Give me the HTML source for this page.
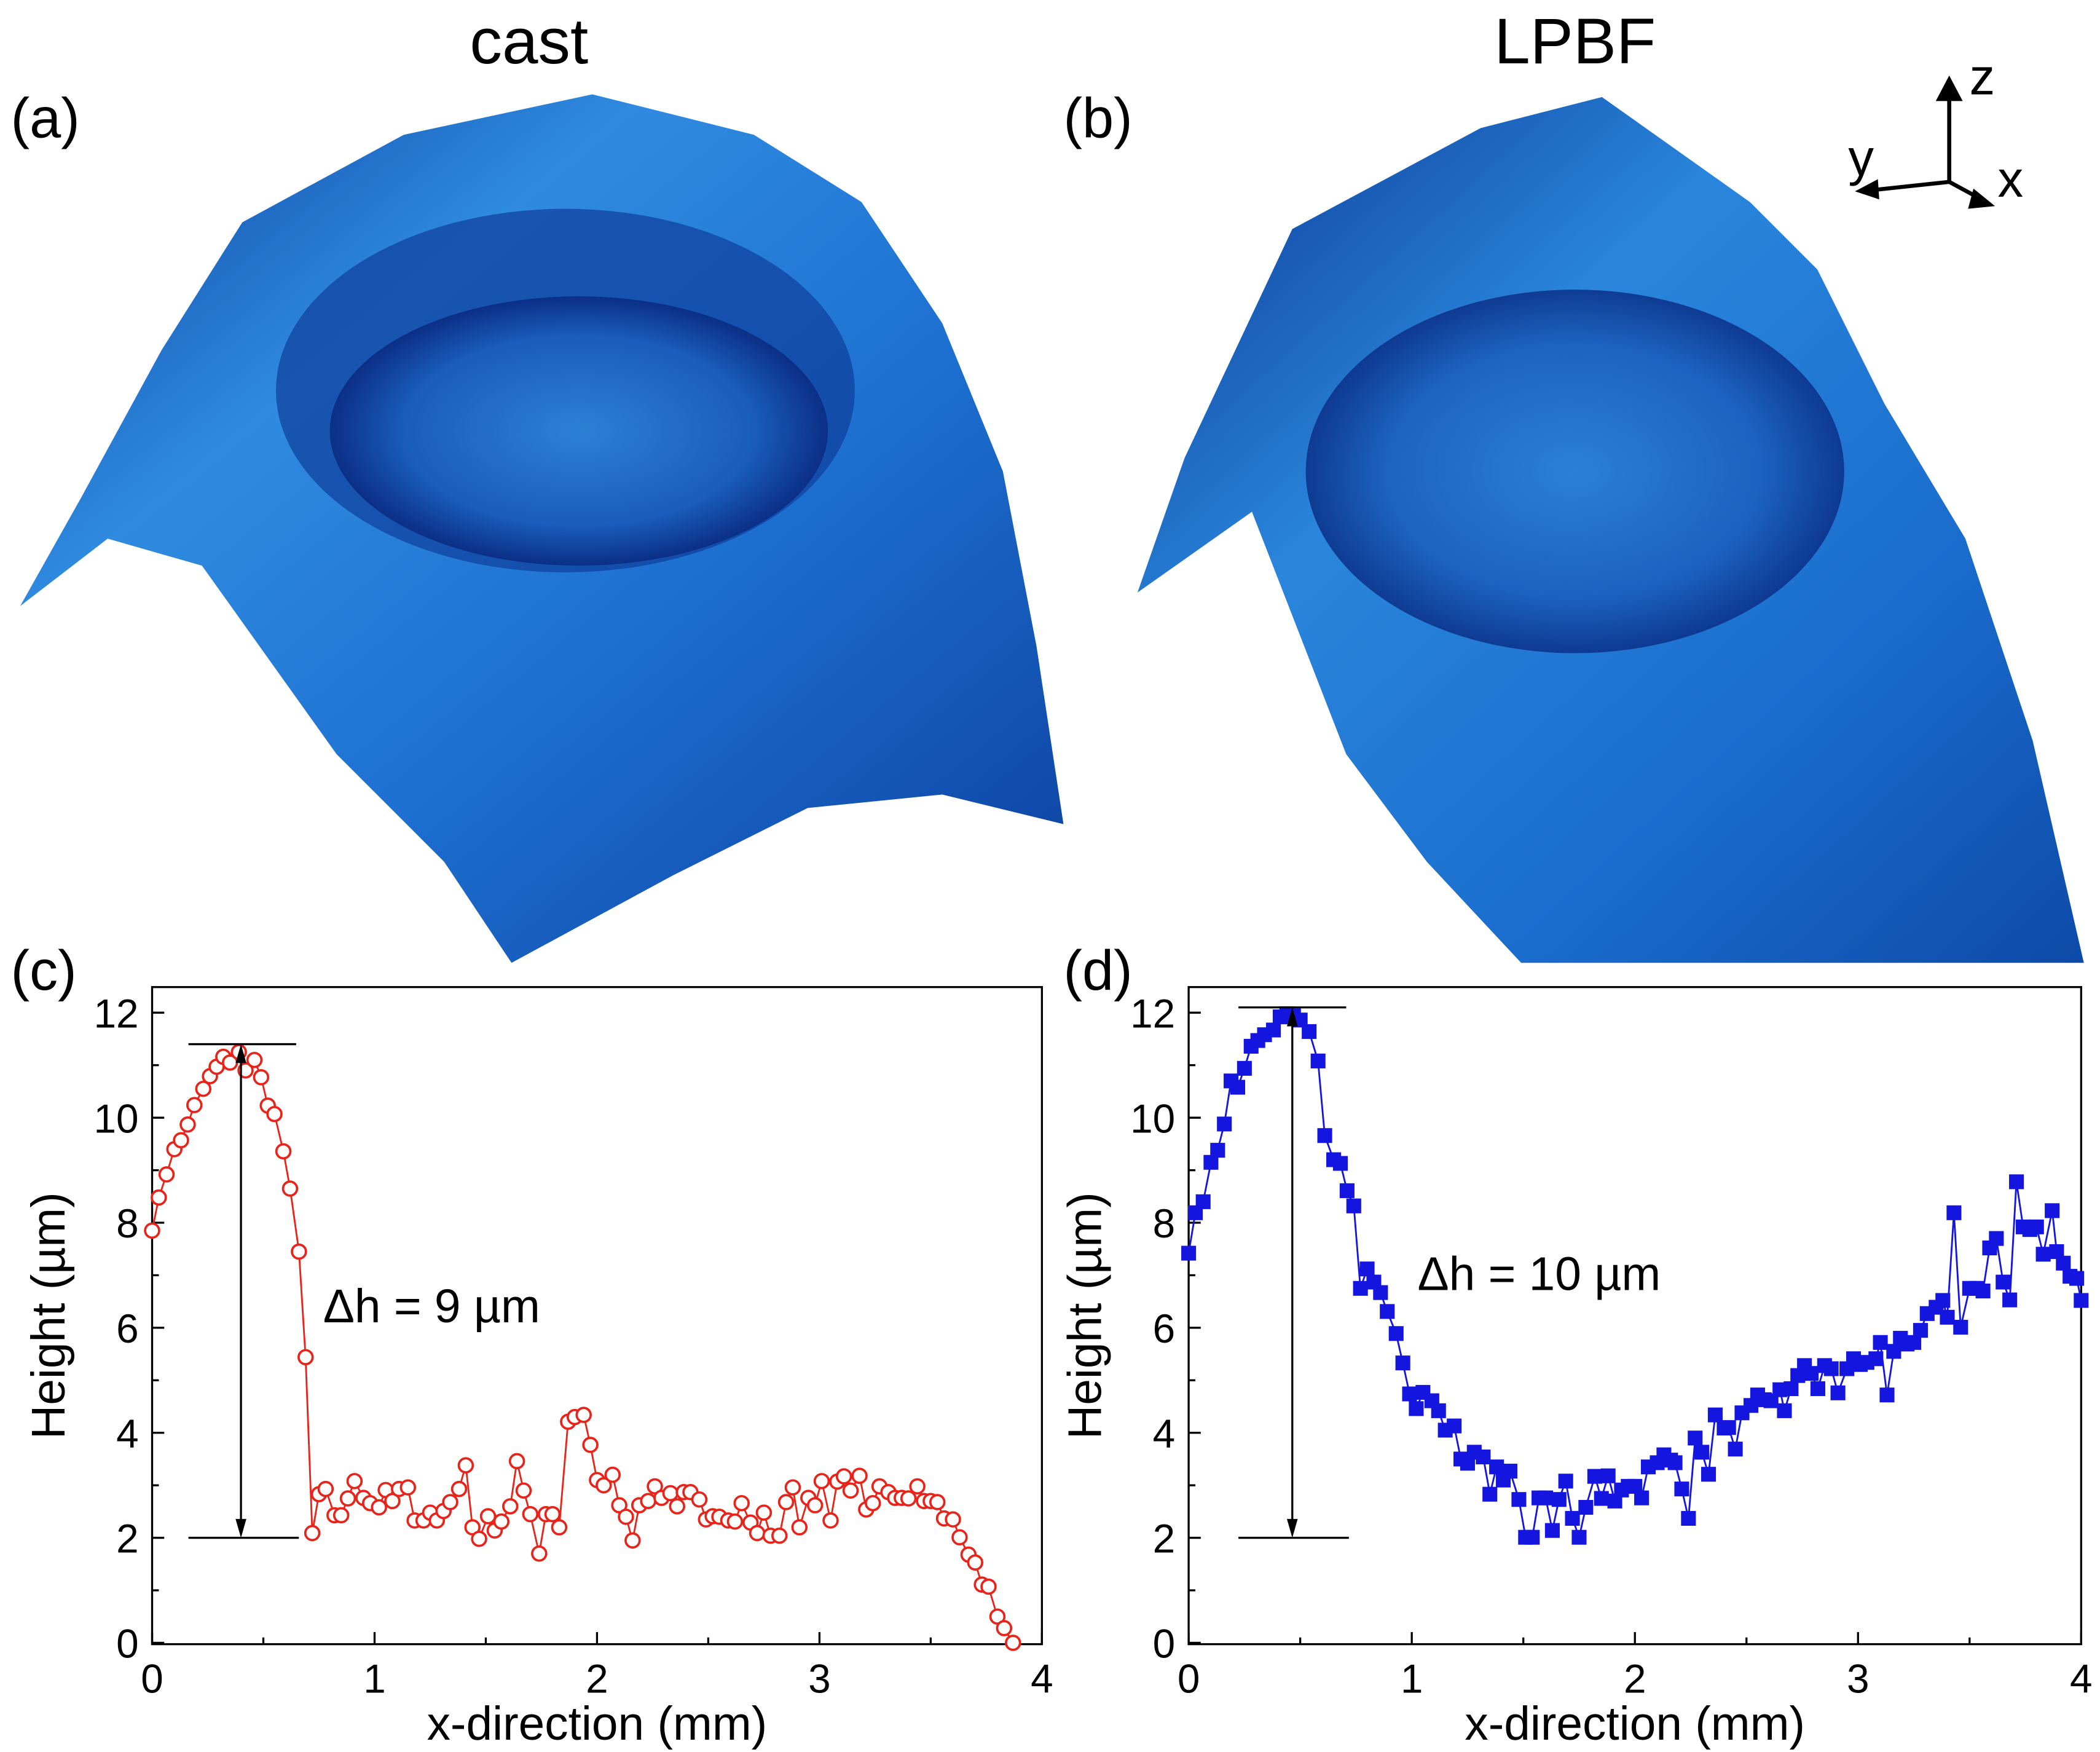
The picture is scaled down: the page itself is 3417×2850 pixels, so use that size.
<!DOCTYPE html>
<html><head><meta charset="utf-8"><style>
html,body{margin:0;padding:0;background:#fff;}
svg{display:block;font-family:"Liberation Sans",sans-serif;}
</style></head><body>
<svg id="fig" width="3417" height="2850" viewBox="0 0 1560 1301" xmlns="http://www.w3.org/2000/svg">
<defs>
<linearGradient id="gA" x1="0" y1="0" x2="1" y2="1">
<stop offset="0" stop-color="#0a3a9a"/><stop offset="0.3" stop-color="#2f8be0"/><stop offset="0.6" stop-color="#1d6fd0"/><stop offset="1" stop-color="#0b3f9e"/></linearGradient>
<linearGradient id="gB" x1="0" y1="0" x2="1" y2="1">
<stop offset="0" stop-color="#0a3390"/><stop offset="0.35" stop-color="#2a86dc"/><stop offset="0.7" stop-color="#1a6ccd"/><stop offset="1" stop-color="#0d4aa8"/></linearGradient>
<radialGradient id="gC" cx="0.5" cy="0.5" r="0.5">
<stop offset="0" stop-color="#2d7fd6"/><stop offset="0.7" stop-color="#1a5dbd"/><stop offset="1" stop-color="#0b2f86"/></radialGradient>
</defs>

<g>
<path d="M15,450 L60,370 L120,260 L180,165 L300,100 L440,70 L560,100 L640,150 L700,240 L745,350 L770,480 L790,612 L700,590 L600,600 L500,650 L380,715 L330,640 L250,560 L150,420 L80,400 Z" fill="url(#gA)"/>
<ellipse cx="420" cy="290" rx="215" ry="135" fill="#0e3f9c" opacity="0.7"/>
<ellipse cx="430" cy="320" rx="185" ry="100" fill="url(#gC)"/>
</g>
<g>
<path d="M845,440 L880,340 L960,170 L1100,95 L1190,72 L1300,150 L1350,200 L1400,300 L1460,400 L1510,550 L1548,715 L1130,715 L1060,640 L1000,560 L930,380 Z" fill="url(#gB)"/>
<ellipse cx="1170" cy="350" rx="200" ry="135" fill="url(#gC)" opacity="0.85"/>
</g>

<text x="393" y="47" font-size="48" text-anchor="middle">cast</text>
<text x="1170" y="47" font-size="48" text-anchor="middle">LPBF</text>
<text x="8" y="102" font-size="42">(a)</text>
<text x="790" y="102" font-size="42">(b)</text>
<text x="8" y="735" font-size="42">(c)</text>
<text x="790" y="735" font-size="42">(d)</text>

<g stroke="#000" stroke-width="3" fill="none">
<line x1="1448" y1="135" x2="1448" y2="68"/>
<polygon points="1438,75 1448,56 1458,75" fill="#000" stroke="none"/>
<line x1="1448" y1="135" x2="1392" y2="141"/>
<polygon points="1395,133 1378,142 1396,148" fill="#000" stroke="none"/>
<line x1="1448" y1="135" x2="1472" y2="148"/>
<polygon points="1466,140 1482,153 1462,155" fill="#000" stroke="none"/>
</g>
<text x="1463" y="70" font-size="38">z</text>
<text x="1373" y="130" font-size="38">y</text>
<text x="1484" y="146" font-size="38">x</text>

<g id="chartC"></g>
<g id="chartD"></g>
</svg>
<script>
const castX=[0,.03,.065,.1,.13,.16,.19,.23,.26,.29,.32,.35,.39,.42,.46,.49,.52,.55,.59,.62,.66,.69,.72,.75,.78,.82,.85,.88,.91,.95,.98,1.02,1.05,1.08,1.11,1.15,1.18,1.22,1.25,1.28,1.31,1.34,1.38,1.41,1.44,1.47,1.51,1.54,1.57,1.61,1.64,1.67,1.7,1.74,1.77,1.8,1.83,1.87,1.9,1.94,1.97,2.0,2.03,2.07,2.1,2.13,2.16,2.19,2.23,2.26,2.29,2.33,2.36,2.39,2.42,2.46,2.49,2.52,2.55,2.59,2.62,2.65,2.69,2.72,2.75,2.78,2.82,2.85,2.88,2.91,2.95,2.98,3.01,3.05,3.08,3.11,3.14,3.18,3.21,3.24,3.27,3.31,3.34,3.37,3.4,3.44,3.47,3.5,3.53,3.56,3.6,3.63,3.67,3.7,3.73,3.76,3.8,3.83,3.87];
const castY=[7.85,8.48,8.92,9.4,9.57,9.87,10.24,10.55,10.79,10.97,11.16,11.05,11.25,10.9,11.1,10.77,10.23,10.07,9.36,8.65,7.45,5.44,2.09,2.83,2.93,2.43,2.43,2.75,3.08,2.76,2.66,2.58,2.91,2.7,2.93,2.96,2.33,2.33,2.48,2.33,2.51,2.68,2.93,3.38,2.2,1.98,2.41,2.14,2.31,2.6,3.46,2.9,2.45,1.7,2.45,2.45,2.2,4.21,4.3,4.34,3.77,3.1,3.0,3.2,2.62,2.4,1.95,2.62,2.7,2.98,2.76,2.85,2.6,2.87,2.87,2.73,2.35,2.41,2.4,2.33,2.31,2.66,2.29,2.09,2.48,2.04,2.04,2.68,2.96,2.2,2.76,2.62,3.08,2.33,3.07,3.17,2.9,3.18,2.54,2.66,2.98,2.87,2.76,2.76,2.75,2.98,2.7,2.7,2.68,2.37,2.35,2.01,1.68,1.53,1.11,1.07,0.5,0.28,0];
const lpbfX=[0,.03,.065,.1,.13,.16,.19,.22,.25,.28,.31,.34,.38,.41,.44,.47,.5,.54,.58,.61,.65,.68,.71,.74,.77,.8,.83,.86,.89,.93,.96,.99,1.02,1.05,1.09,1.12,1.15,1.19,1.22,1.25,1.28,1.32,1.35,1.38,1.41,1.44,1.48,1.51,1.54,1.57,1.6,1.63,1.66,1.69,1.72,1.75,1.78,1.82,1.85,1.88,1.91,1.94,1.97,2.0,2.03,2.06,2.1,2.13,2.16,2.18,2.21,2.24,2.27,2.3,2.33,2.36,2.4,2.42,2.45,2.48,2.52,2.55,2.58,2.61,2.65,2.67,2.7,2.73,2.76,2.79,2.82,2.85,2.88,2.91,2.95,2.98,3.01,3.04,3.08,3.1,3.13,3.16,3.19,3.22,3.25,3.28,3.31,3.35,3.38,3.4,3.43,3.46,3.5,3.53,3.56,3.59,3.62,3.65,3.68,3.71,3.74,3.77,3.8,3.83,3.87,3.89,3.92,3.95,3.98,4.0];
const lpbfY=[7.42,8.19,8.4,9.15,9.38,9.88,10.7,10.58,10.94,11.36,11.47,11.58,11.67,11.92,11.98,11.94,11.86,11.64,11.08,9.66,9.2,9.13,8.61,8.32,6.75,7.12,6.87,6.67,6.31,5.89,5.33,4.74,4.46,4.77,4.61,4.42,4.05,4.13,3.5,3.42,3.63,3.54,2.83,3.35,3.1,3.27,2.73,2.01,2.01,2.76,2.76,2.14,2.73,3.08,2.37,2.01,2.58,3.17,2.75,3.18,2.7,2.91,2.98,2.98,2.76,3.35,3.43,3.58,3.48,3.43,2.93,2.37,3.9,3.63,3.21,4.34,4.09,4.1,3.69,4.38,4.52,4.72,4.63,4.61,4.82,4.42,4.84,5.09,5.28,5.13,4.84,5.28,5.22,4.76,5.22,5.41,5.3,5.34,5.41,5.72,4.72,5.55,5.8,5.69,5.72,5.95,6.27,6.39,6.52,6.2,8.19,6.01,6.75,6.75,6.7,7.52,7.7,6.87,6.53,8.78,7.92,7.87,7.92,7.4,8.23,7.45,7.23,6.98,6.94,6.52];
const xTicks=[0,1,2,3,4];
const yTicks=[0,2,4,6,8,10,12];
const castDelta=[2,11.4];
const lpbfDelta=[2,12.1];

const NS='http://www.w3.org/2000/svg';
function mk(tag,attrs,parent){const e=document.createElementNS(NS,tag);for(const k in attrs)e.setAttribute(k,attrs[k]);parent.appendChild(e);return e;}

function drawChart(g,L,R,xs,ys,color,marker,delta,dLabel,labelX,labelY,dx0,dx1,arrowX){
  const T=733,B=1221,Y0=1220,Y12=752;
  const sx=v=>L+(R-L)*v/4;
  const sy=v=>Y0+(Y12-Y0)*v/12;
  let r=mk('rect',{x:L,y:T,width:R-L,height:B-T,fill:'none',stroke:'#000','stroke-width':1.5},g);
  
  
  for(const t of xTicks){
    let l=mk('line',{x1:sx(t),x2:sx(t),y1:B,y2:B-9,stroke:'#000','stroke-width':1.5},g);
    
    
    if(t<4){let m=mk('line',{x1:sx(t+0.5),x2:sx(t+0.5),y1:B,y2:B-5,stroke:'#000','stroke-width':1.5},g);
      
      }
    let tx=mk('text',{x:sx(t),y:B+36,'font-size':30,'text-anchor':'middle'},g);tx.textContent=t;
    
    
  }
  for(const t of yTicks){
    let l=mk('line',{x1:L,x2:L+9,y1:sy(t),y2:sy(t),stroke:'#000','stroke-width':1.5},g);
    
    
    if(t<12){let m=mk('line',{x1:L,x2:L+5,y1:sy(t+1),y2:sy(t+1),stroke:'#000','stroke-width':1.5},g);
      
      }
    let tx=mk('text',{x:L-10,y:sy(t)+11,'font-size':30,'text-anchor':'end'},g);tx.textContent=t;
    
    
  }
  let xt=mk('text',{x:(L+R)/2,y:1292,'font-size':35,'text-anchor':'middle'},g);xt.textContent='x-direction (mm)';
  
  
  let yt=mk('text',{x:0,y:0,'font-size':35,'text-anchor':'middle',transform:`translate(${L-65},${(T+B)/2}) rotate(-90)`},g);yt.textContent='Height (µm)';
  
  
  let pts=xs.map((x,i)=>sx(x).toFixed(1)+','+sy(ys[i]).toFixed(1)).join(' ');
  let pl=mk('polyline',{points:pts,fill:'none',stroke:color,'stroke-width':1.3},g);
  
  
  xs.forEach((x,i)=>{
    let m;
    if(marker==='circle') m=mk('circle',{cx:sx(x),cy:sy(ys[i]),r:5.2,fill:'#fff',stroke:color,'stroke-width':1.7},g);
    else m=mk('rect',{x:sx(x)-5.5,y:sy(ys[i])-5.5,width:11,height:11,fill:color},g);
    
    
  });
  const yb=sy(delta[0]),yt2=sy(delta[1]);
  let h1=mk('line',{x1:dx0,x2:dx1,y1:yt2,y2:yt2,stroke:'#000','stroke-width':1.5},g);
  
  
  let h2=mk('line',{x1:dx0,x2:dx1+2,y1:yb,y2:yb,stroke:'#000','stroke-width':1.5},g);
  
  
  let v=mk('line',{x1:arrowX,x2:arrowX,y1:yt2+10,y2:yb-10,stroke:'#000','stroke-width':1.5},g);
  
  
  let a1=mk('polygon',{points:`${arrowX-4},${yt2+14} ${arrowX},${yt2} ${arrowX+4},${yt2+14}`,fill:'#000'},g);
  
  
  let a2=mk('polygon',{points:`${arrowX-4},${yb-14} ${arrowX},${yb} ${arrowX+4},${yb-14}`,fill:'#000'},g);
  
  
  let dl=mk('text',{x:labelX,y:labelY,'font-size':35},g);dl.textContent=dLabel;
  
  
}
drawChart(document.getElementById('chartC'),113,774,castX,castY,'#e8231a','circle',castDelta,'Δh = 9 µm',240,982,140,220,179);
drawChart(document.getElementById('chartD'),883,1546,lpbfX,lpbfY,'#1515e0','square',lpbfDelta,'Δh = 10 µm',1053,958,920,1000,960);
</script>
</body></html>
